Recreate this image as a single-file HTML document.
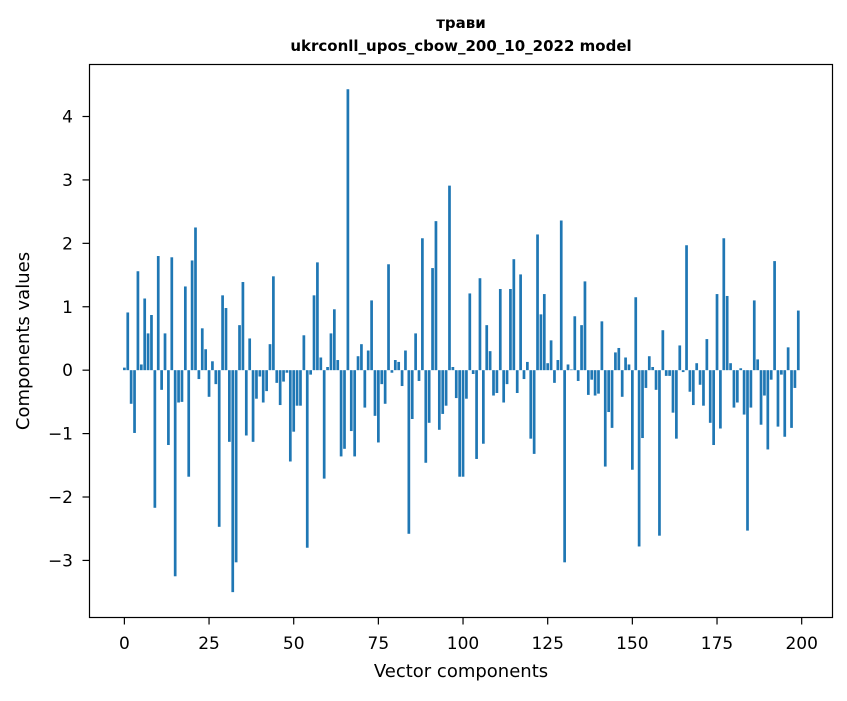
<!DOCTYPE html>
<html><head><meta charset="utf-8"><style>
body{margin:0;background:#fff;}
svg text{font-family:"DejaVu Sans","Liberation Sans",sans-serif;fill:#000;}
</style></head><body>
<svg id="chart" width="847" height="696" xmlns="http://www.w3.org/2000/svg">
<rect width="847" height="696" fill="#fff"/>
<text x="461" y="28" text-anchor="middle" font-size="15" font-weight="bold">трави</text>
<text x="461" y="51" text-anchor="middle" font-size="15" font-weight="bold">ukrconll_upos_cbow_200_10_2022 model</text>
<g id="bars"></g>
<g id="axes"></g>
<rect x="89.5" y="64.5" width="743" height="553" fill="none" stroke="#000" stroke-width="1.2"/>
<text x="461" y="677" text-anchor="middle" font-size="18">Vector components</text>
<text transform="translate(29,341) rotate(-90)" text-anchor="middle" font-size="18">Components values</text>
</svg>
<script>
const values = [0.04,0.91,-0.53,-0.99,1.56,0.09,1.13,0.58,0.87,-2.17,1.8,-0.31,0.58,-1.18,1.78,-3.25,-0.51,-0.5,1.32,-1.68,1.73,2.25,-0.14,0.66,0.33,-0.42,0.14,-0.22,-2.47,1.18,0.98,-1.13,-3.5,-3.03,0.71,1.39,-1.03,0.5,-1.13,-0.45,-0.1,-0.51,-0.33,0.41,1.48,-0.2,-0.55,-0.18,-0.04,-1.44,-0.97,-0.56,-0.56,0.55,-2.8,-0.07,1.18,1.7,0.2,-1.71,0.05,0.58,0.96,0.16,-1.36,-1.24,4.43,-0.96,-1.36,0.22,0.41,-0.59,0.31,1.1,-0.72,-1.14,-0.22,-0.53,1.67,-0.04,0.16,0.13,-0.25,0.31,-2.58,-0.77,0.58,-0.17,2.08,-1.46,-0.83,1.61,2.35,-0.94,-0.69,-0.56,2.91,0.05,-0.44,-1.68,-1.68,-0.45,1.21,-0.06,-1.4,1.45,-1.16,0.71,0.3,-0.4,-0.36,1.28,-0.51,-0.22,1.28,1.75,-0.36,1.51,-0.14,0.13,-1.08,-1.32,2.14,0.88,1.2,0.11,0.47,-0.2,0.16,2.36,-3.03,0.09,0.01,0.85,-0.17,0.71,1.4,-0.39,-0.15,-0.4,-0.37,0.77,-1.52,-0.66,-0.91,0.28,0.35,-0.42,0.2,0.09,-1.57,1.15,-2.78,-1.07,-0.28,0.22,0.05,-0.31,-2.61,0.63,-0.09,-0.09,-0.67,-1.08,0.39,-0.03,1.97,-0.34,-0.55,0.11,-0.23,-0.56,0.49,-0.83,-1.18,1.2,-0.92,2.08,1.17,0.11,-0.59,-0.51,0.03,-0.7,-2.53,-0.59,1.1,0.17,-0.86,-0.4,-1.25,-0.15,1.72,-0.89,-0.07,-1.05,0.36,-0.91,-0.28,0.94];
const xTicks = [0,25,50,75,100,125,150,175,200];
const yTicks = [-3,-2,-1,0,1,2,3,4];
const yTickLabels = ["\u22123","\u22122","\u22121","0","1","2","3","4"];

const NS="http://www.w3.org/2000/svg";
const L=89.5,R=832.5,T=64.5,B=617.5;
const xMin=-10.3,xMax=209.1,yMin=-3.9,yMax=4.82;
function xs(v){return L+(v-xMin)/(xMax-xMin)*(R-L);}
function ys(v){return B-(v-yMin)/(yMax-yMin)*(B-T);}
const gb=document.getElementById('bars');
values.forEach((v,i)=>{
  const r=document.createElementNS(NS,'rect');
  const x0=xs(i-0.4),x1=xs(i+0.4);
  const y0=ys(Math.max(v,0)),y1=ys(Math.min(v,0));
  r.setAttribute('x',x0);r.setAttribute('width',x1-x0);
  r.setAttribute('y',y0);r.setAttribute('height',Math.max(y1-y0,0));
  r.setAttribute('fill','#1f77b4');
  
  
  gb.appendChild(r);
});
const ga=document.getElementById('axes');
xTicks.forEach(t=>{
  const x=xs(t);
  const l=document.createElementNS(NS,'line');
  l.setAttribute('x1',x);l.setAttribute('x2',x);l.setAttribute('y1',B);l.setAttribute('y2',B+7);
  l.setAttribute('stroke','#000');l.setAttribute('stroke-width','1.2');
  
  
  ga.appendChild(l);
  const tx=document.createElementNS(NS,'text');
  tx.setAttribute('x',x);tx.setAttribute('y',649);tx.setAttribute('text-anchor','middle');tx.setAttribute('font-size','17');
  tx.textContent=String(t);
  
  
  ga.appendChild(tx);
});
yTicks.forEach((t,i)=>{
  const y=ys(t);
  const l=document.createElementNS(NS,'line');
  l.setAttribute('x1',L-7);l.setAttribute('x2',L);l.setAttribute('y1',y);l.setAttribute('y2',y);
  l.setAttribute('stroke','#000');l.setAttribute('stroke-width','1.2');
  
  
  ga.appendChild(l);
  const tx=document.createElementNS(NS,'text');
  tx.setAttribute('x',73);tx.setAttribute('y',y+6);tx.setAttribute('text-anchor','end');tx.setAttribute('font-size','17');
  tx.textContent=yTickLabels[i];
  
  
  ga.appendChild(tx);
});
</script>
</body></html>
